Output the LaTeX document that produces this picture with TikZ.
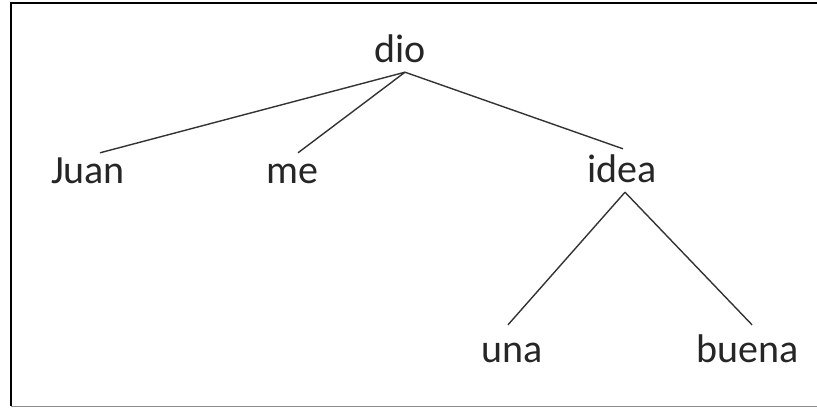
\documentclass[tikz,border=0pt]{standalone}
\usepackage{fontspec}
\setmainfont{Carlito}
\tikzstyle{word} = [inner sep = 0pt, anchor = base, text height = 30pt, 
	text depth = 10pt, font = \fontsize{40}{48}\selectfont, text = black!85]
\tikzstyle{branch} = [line width = 1.4pt, draw = black!80]

\begin{document}
\begin{tikzpicture}[x = 1pt, y = -1pt]

\useasboundingbox (0,0) rectangle (817,408);

\draw [line width = 2pt] (11,406) -- (11,3) -- (817,3);
\draw [line width = 1pt, black!45] (11,406) -- (817,406);

\node (dio) [word] at (400,62) {dio};

\node (Juan) [word] at (88,183) {Juan};
\node (me) [word] at (292,183) {me};
\node (idea) [word] at (622,182) {idea};

\node (una) [word] at (512,362) {una};
\node (buena) [word] at (748,362) {buena};

\draw [branch] ([xshift = 5pt]dio.south) -- ([xshift = 12pt]Juan.north);
\draw [branch] ([xshift = 5pt]dio.south) -- ([xshift = 6pt]me.north);
\draw [branch] ([xshift = 5pt]dio.south) -- ([xshift = 1pt, yshift = 3pt]idea.north);

\draw [branch] ([xshift = 3pt]idea.south) -- ([xshift = -4pt, yshift = 7pt]una.north);
\draw [branch] ([xshift = 3pt]idea.south) -- ([xshift = 4pt, yshift = 7pt]buena.north);
\end{tikzpicture}
\end{document}
